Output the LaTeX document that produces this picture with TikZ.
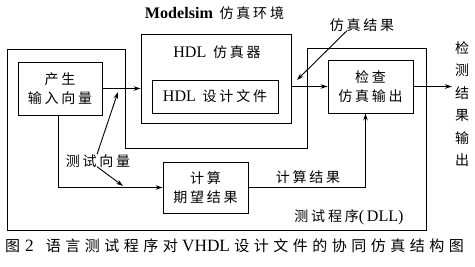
\documentclass[tikz,border=0pt]{standalone}
\usepackage{fontspec}
\setmainfont[Scale=1.15]{Liberation Serif}
\newfontfamily\cjk[LetterSpace=20]{Noto Sans CJK SC}
\newfontfamily\cjkcap[LetterSpace=30]{Noto Sans CJK SC}
\usetikzlibrary{arrows.meta,calc}
\tikzset{
  box/.style={draw,line width=0.9pt,inner sep=0pt},
  txt/.style={font=\fontsize{14}{18}\selectfont,align=center,inner sep=0pt},
  conn/.style={line width=0.9pt,-{Stealth[length=7pt,width=4.5pt]}},
  plain/.style={line width=0.9pt},
}
\begin{document}
\begin{tikzpicture}[x=1pt,y=-1pt]
\useasboundingbox (0,0) rectangle (475,267);
% outer test program outline
\draw[plain] (7,49) -- (125,49) -- (125,148) -- (307,148) -- (307,48) -- (426,48) -- (426,230) -- (7,230) -- cycle;
% boxes
\node[box,minimum width=150pt,minimum height=89pt] (ms) at (216,78.5) {};
\node[box,minimum width=126pt,minimum height=33pt,txt] (hdl) at (215,96.5) {HDL\, {\cjk 设计文件}};
\node[box,minimum width=84pt,minimum height=53pt,txt] (gen) at (60,88.5) {{\cjk 产生}\\[1pt]{\cjk 输入向量}};
\node[box,minimum width=85pt,minimum height=53pt,txt] (chk) at (370.5,86.5) {{\cjk 检查}\\[1pt]{\cjk 仿真输出}};
\node[box,minimum width=85pt,minimum height=51pt,txt] (calc) at (205.5,187.5) {{\cjk 计算}\\[1pt]{\cjk 期望结果}};
% labels
\node[txt] (title) at (214.5,13) {\textbf{Modelsim}\, {\cjk 仿真环境}};
\node[txt] (msl) at (217,52) {HDL\, {\cjk 仿真器}};
\node[txt] (simres) at (362,25) {{\cjk 仿真结果}};
\node[txt] (tv) at (98,161) {{\cjk 测试向量}};
\node[txt] (cres) at (308,177) {{\cjk 计算结果}};
\node[txt] (dll) at (349,217) {{\cjk 测试程序}(\,DLL)};
\node[txt] (out) at (462,104) {{\cjk 检}\\[4.5pt]{\cjk 测}\\[4.5pt]{\cjk 结}\\[4.5pt]{\cjk 果}\\[4.5pt]{\cjk 输}\\[4.5pt]{\cjk 出}};
\node[inner sep=0pt,anchor=west,font=\fontsize{15}{18}\selectfont] (cap) at (5,246) {{\cjkcap 图}\hspace{5pt}2\hspace{12pt}{\cjkcap 语言测试程序对} VHDL {\cjkcap 设计文件的协同仿真结构图}};
% connectors
\coordinate (outend) at (452,86.5);
\draw[conn] (gen.east) -- (gen.east -| ms.west);
\draw[conn] (chk.west -| ms.east) -- (chk.west);
\draw[conn] (chk.east) -- (outend);
\draw[conn] ([xshift=-2pt]gen.south) |- (calc.west);
\draw[conn] (calc.east) -| ([xshift=-5pt]chk.south);
% pointers
\coordinate (p1) at (118,92);
\coordinate (p2) at (123,186);
\coordinate (p3) at (297,80);
\draw[conn] ([xshift=-1pt]tv.north) -- (p1);
\draw[conn] ([xshift=-1pt,yshift=1pt]tv.south) -- (p2);
\draw[conn] ([xshift=-15pt,yshift=1pt]simres.south) -- (p3);
\end{tikzpicture}
\end{document}
